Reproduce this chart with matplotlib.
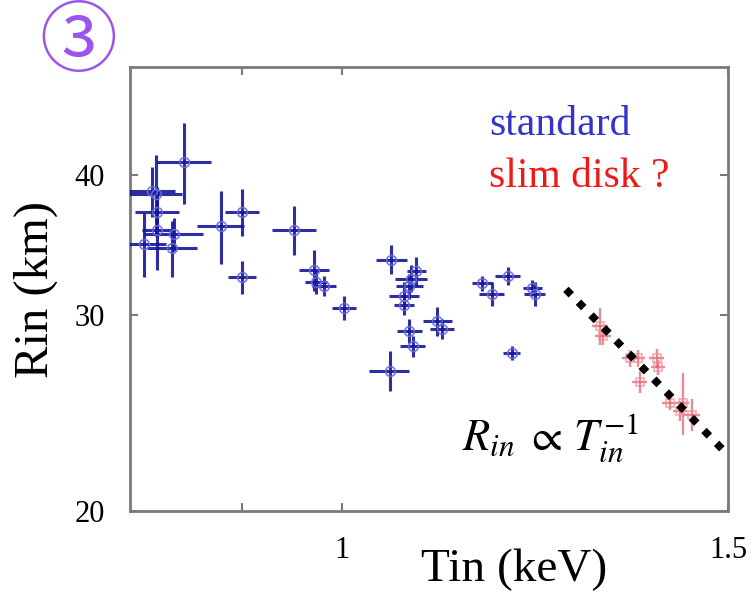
import matplotlib
matplotlib.use("Agg")
import matplotlib.pyplot as plt
from matplotlib.ticker import FixedLocator, FixedFormatter, NullFormatter

plt.rcParams["font.family"] = ["Liberation Serif", "DejaVu Serif"]
plt.rcParams["mathtext.fontset"] = "stix"

# Inner-disk temperature (keV) and radius (km) with 1-sigma errors
std_T = [0.847, 0.822, 0.819, 0.823, 0.838, 0.812, 0.836, 0.823, 0.880, 0.900,
         0.900, 0.951, 0.971, 0.973, 0.981, 1.002, 1.053, 1.075, 1.081, 1.073,
         1.067, 1.067, 1.105, 1.111, 1.073, 1.077, 1.051, 1.158, 1.190, 1.170,
         1.224, 1.221, 1.195]
std_R = [41.1, 38.5, 38.7, 37.1, 35.4, 34.7, 34.4, 35.7, 36.0, 37.1,
         32.4, 35.7, 32.9, 32.1, 31.8, 30.4, 33.6, 32.3, 32.8, 31.8,
         31.2, 30.6, 29.6, 29.1, 29.0, 28.1, 26.7, 32.0, 32.5, 31.3,
         31.3, 31.7, 27.7]
std_Terr = [0.024, 0.023, 0.020, 0.019, 0.026, 0.019, 0.022, 0.013, 0.022, 0.016,
            0.013, 0.022, 0.015, 0.011, 0.012, 0.013, 0.017, 0.018, 0.011, 0.015,
            0.017, 0.011, 0.017, 0.014, 0.014, 0.014, 0.022, 0.012, 0.016, 0.015,
            0.014, 0.012, 0.011]
std_Rerr = [3.4, 3.2, 2.0, 1.9, 1.2, 2.3, 2.0, 2.8, 2.7, 1.8,
            1.1, 1.8, 1.4, 0.8, 0.65, 0.75, 1.0, 0.9, 0.95, 0.8,
            0.9, 0.6, 0.9, 0.6, 0.7, 0.6, 1.1, 0.5, 0.6, 0.75,
            0.75, 0.5, 0.4]

slim_T = [1.311, 1.315, 1.353, 1.364, 1.392, 1.394, 1.367, 1.411, 1.431, 1.444, 1.426]
slim_R = [29.3, 28.7, 27.4, 27.4, 27.4, 26.9, 26.1, 25.0, 25.0, 24.4, 24.6]
slim_Terr = [0.011, 0.011, 0.011, 0.011, 0.011, 0.010, 0.011, 0.011, 0.009, 0.013, 0.010]
slim_Rerr = [1.1, 0.5, 0.5, 0.5, 0.55, 0.4, 0.6, 0.35, 1.6, 0.8, 0.5]

# R_in proportional to T_in^-1 guide line
guide_T = [1.265, 1.495]
guide_R = [31.6, 22.6]

x_ticks = [1.0, 1.5]
x_tick_labels = ["1", "1.5"]
x_minor = [0.9]
y_ticks = [20, 30, 40]
y_tick_labels = ["20", "30", "40"]

fig = plt.figure(figsize=(7.53, 5.93), dpi=100)
ax = fig.add_axes([130 / 753, 82 / 593, 598 / 753, 444 / 593])
ax.set_xscale("log")
ax.set_yscale("log")
ax.set_xlim(0.8, 1.5)
ax.set_ylim(20, 50)

ax.errorbar(std_T, std_R, xerr=std_Terr, yerr=std_Rerr, fmt="o", ms=7,
            mfc="none", mec="#6a6ae0", mew=1.2, ecolor="#16169a", elinewidth=2.2,
            capsize=0, alpha=0.9, zorder=3)
ax.errorbar(slim_T, slim_R, xerr=slim_Terr, yerr=slim_Rerr, fmt="s", ms=6,
            mfc="none", mec="#ef8f98", mew=1.2, ecolor="#e26470", elinewidth=1.7,
            capsize=0, alpha=0.75, zorder=3)
ax.plot(guide_T, guide_R, color="black", lw=5.5, ls=(0, (1, 1.35)),
        dash_capstyle="butt", zorder=4)

ax.xaxis.set_major_locator(FixedLocator(x_ticks))
ax.xaxis.set_major_formatter(FixedFormatter(x_tick_labels))
ax.xaxis.set_minor_locator(FixedLocator(x_minor))
ax.xaxis.set_minor_formatter(NullFormatter())
ax.yaxis.set_major_locator(FixedLocator(y_ticks))
ax.yaxis.set_major_formatter(FixedFormatter(y_tick_labels))
ax.yaxis.set_minor_locator(FixedLocator([]))

frame_col = "#7a7a7a"
for s in ax.spines.values():
    s.set_color(frame_col)
    s.set_linewidth(2.0)
ax.tick_params(which="both", direction="in", top=True, right=True,
               color=frame_col, width=1.5, length=6, labelsize=22,
               labelcolor="black")
ax.tick_params(axis="x", pad=18)
ax.tick_params(axis="y", pad=18)

# axis titles placed as figure text
fig.text(514 / 753, 1 - 581 / 593, "Tin (keV)", fontsize=34, ha="center",
         va="baseline")
ax.set_ylabel("Rin (km)", fontsize=35, labelpad=12)

ax.text(0.600, 0.847, "standard", transform=ax.transAxes, fontsize=30,
        color="#3434c8")
ax.text(0.600, 0.730, "slim disk ?", transform=ax.transAxes, fontsize=30,
        color="#f01818")
ax.text(0.555, 0.137, r"$R_{in}\;\propto\,T_{in}^{-1}$", transform=ax.transAxes,
        fontsize=32, color="black")

fig.text(78 / 753, 1 - 44 / 593, "\u2462", fontsize=56, color="#9955ee",
         ha="center", va="center", family=["Noto Sans CJK JP", "DejaVu Sans"])

fig.savefig("out.png", dpi=100)
